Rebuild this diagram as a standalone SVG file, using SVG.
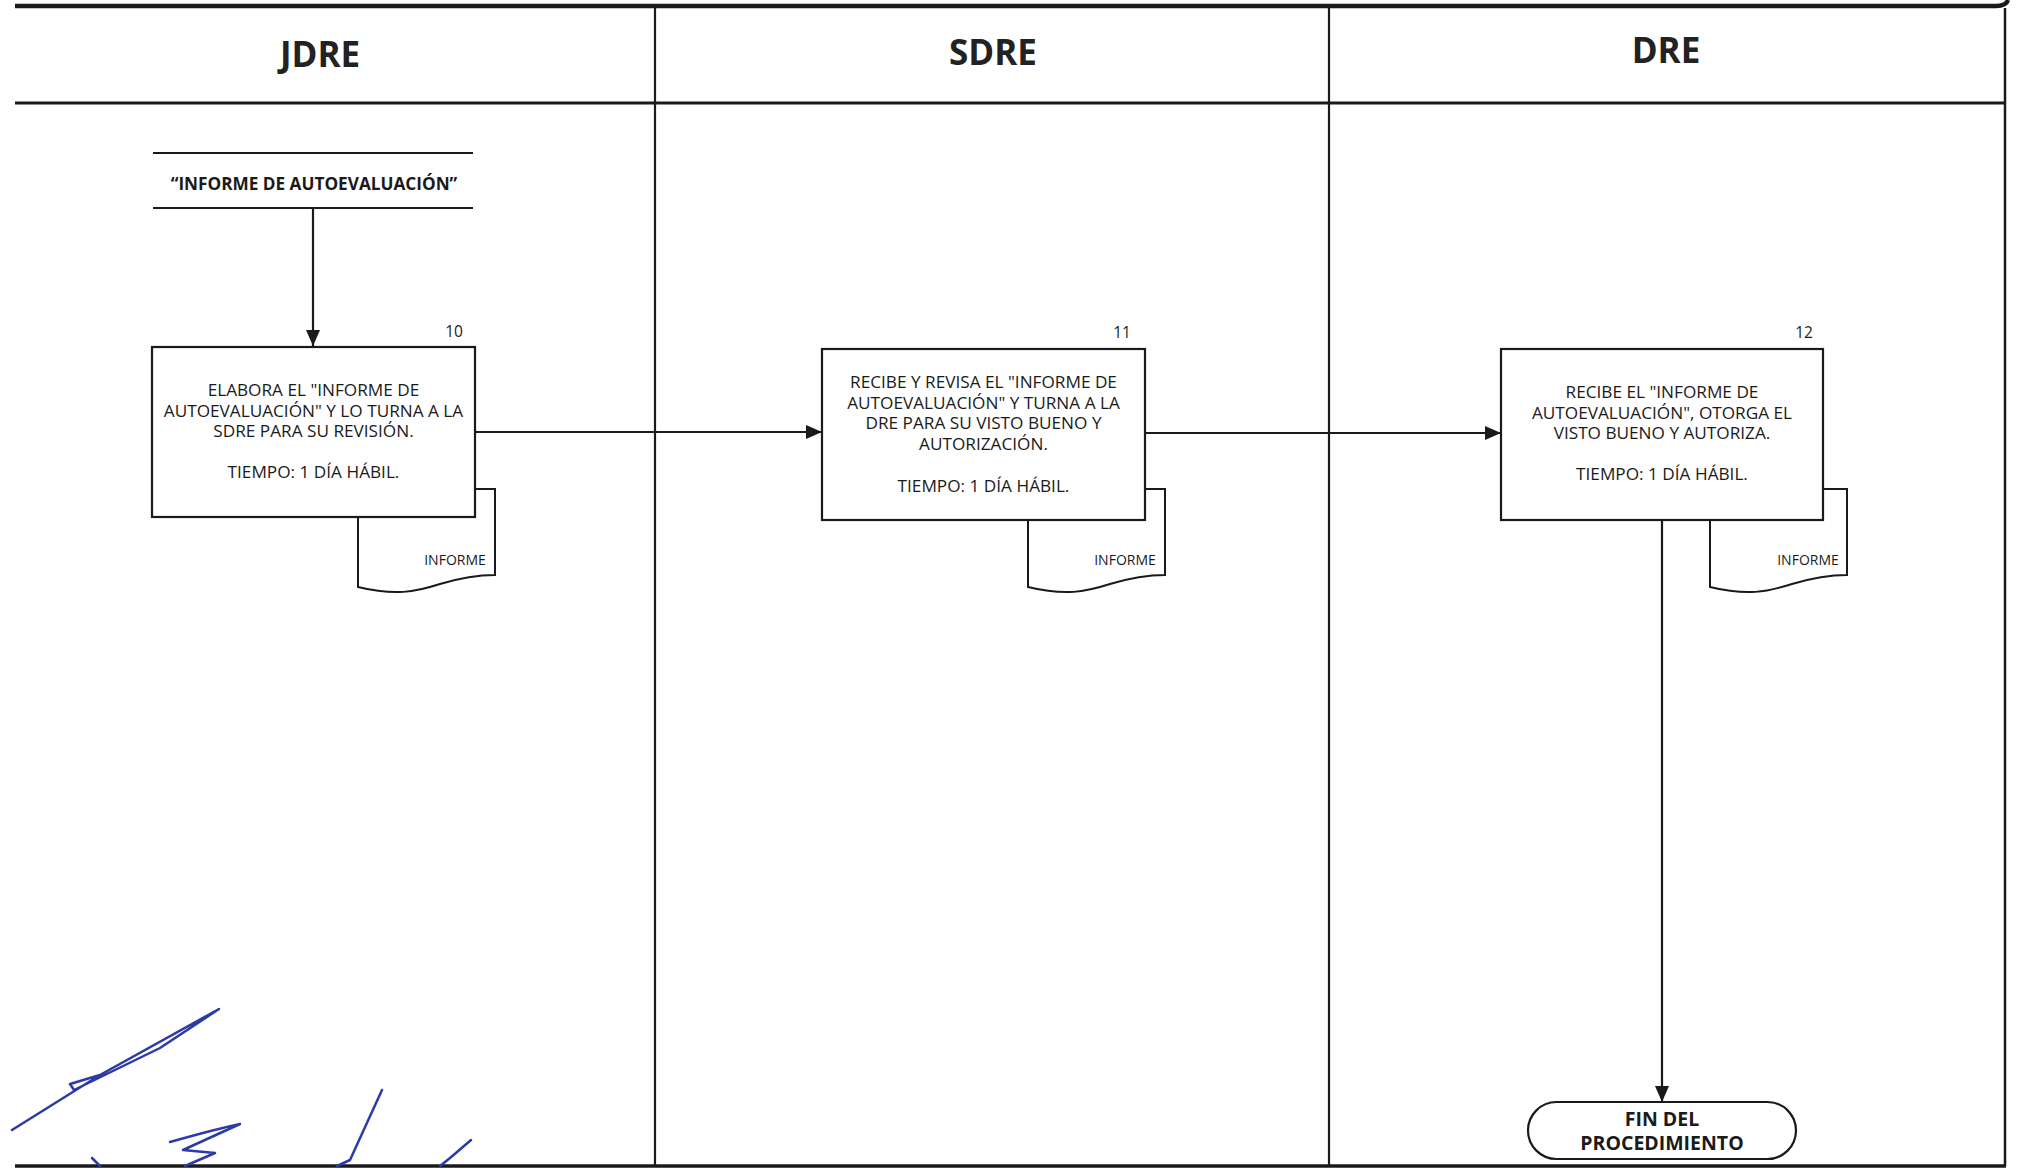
<svg xmlns="http://www.w3.org/2000/svg" width="2017" height="1169" viewBox="0 0 2017 1169">
<style>
.frame{stroke:#1a1a1a;fill:none}
.box{fill:#fff;stroke:#1a1a1a;stroke-width:2.2}
.doc{fill:#fff;stroke:#1a1a1a;stroke-width:2}
.conn{stroke:#1a1a1a;stroke-width:2.2;fill:none}
.t{font-family:"Open Sans","Noto Sans",sans-serif;font-size:17.2px;fill:#1a1a1a;text-anchor:middle}
.n{font-family:"Open Sans","Noto Sans",sans-serif;font-size:15.5px;fill:#1a1a1a;text-anchor:middle}
.s{font-family:"Open Sans","Noto Sans",sans-serif;font-size:14px;fill:#1a1a1a;text-anchor:middle}
.h{font-family:"Open Sans","Noto Sans",sans-serif;font-size:35px;font-weight:bold;fill:#222;text-anchor:middle}
.b{font-family:"Open Sans","Noto Sans",sans-serif;font-size:17.2px;font-weight:bold;fill:#1a1a1a;text-anchor:middle}
.fin{font-family:"Open Sans","Noto Sans",sans-serif;font-size:19.5px;font-weight:bold;fill:#1a1a1a;text-anchor:middle}
.sig{fill:none;stroke:#2b3aa8;stroke-width:2.5;stroke-linecap:round;stroke-linejoin:round}
</style>
<defs>
<marker id="ah" viewBox="0 0 16 14" refX="16" refY="7" markerWidth="16" markerHeight="14" markerUnits="userSpaceOnUse" orient="auto">
<path d="M0,0 L16,7 L0,14 Z" fill="#1a1a1a"/>
</marker>
</defs>
<rect width="2017" height="1169" fill="#fff"/>
<g id="frame">
<path class="frame" stroke-width="4.5" d="M15,6 H1996 Q2006,6 2008,0"/>
<line class="frame" stroke-width="2.5" x1="2005" y1="8" x2="2005" y2="1166"/>
<line class="frame" stroke-width="2.8" x1="15" y1="103" x2="2006" y2="103"/>
<line class="frame" stroke-width="3.5" x1="15" y1="1166" x2="2006" y2="1166"/>
<line class="frame" stroke-width="2.2" x1="655" y1="8" x2="655" y2="1166"/>
<line class="frame" stroke-width="2.2" x1="1329" y1="8" x2="1329" y2="1166"/>
</g>
<g id="headers">
<text class="h" x="320" y="67">JDRE</text>
<text class="h" x="993" y="65">SDRE</text>
<text class="h" x="1666" y="63">DRE</text>
</g>
<g id="connectors">
<line class="conn" x1="313" y1="208" x2="313" y2="346" marker-end="url(#ah)"/>
<line class="conn" x1="475" y1="432" x2="822" y2="432" marker-end="url(#ah)"/>
<line class="conn" x1="1145" y1="433" x2="1501" y2="433" marker-end="url(#ah)"/>
<line class="conn" x1="1662" y1="520" x2="1662" y2="1102" marker-end="url(#ah)"/>
</g>
<g id="start">
<line class="frame" stroke-width="2.2" x1="153" y1="153" x2="473" y2="153"/>
<line class="frame" stroke-width="2.2" x1="153" y1="208" x2="473" y2="208"/>
<text class="b" x="314" y="190">“INFORME DE AUTOEVALUACIÓN”</text>
</g>
<g id="step10">
<path class="doc" d="M358,489 H495 V575 C475,575 460,578 440,584 C415,592 395,596 358,587 Z"/>
<text class="s" x="455" y="565">INFORME</text>
<rect class="box" x="152" y="347" width="323" height="170"/>
<text class="n" x="454" y="337">10</text>
<text class="t" x="313.5" y="396">ELABORA EL "INFORME DE</text>
<text class="t" x="313.5" y="417">AUTOEVALUACIÓN" Y LO TURNA A LA</text>
<text class="t" x="313.5" y="437">SDRE PARA SU REVISIÓN.</text>
<text class="t" x="313.5" y="478">TIEMPO: 1 DÍA HÁBIL.</text>
</g>
<g id="step11">
<path class="doc" d="M1028,489 H1165 V575 C1145,575 1130,578 1110,584 C1085,592 1065,596 1028,587 Z"/>
<text class="s" x="1125" y="565">INFORME</text>
<rect class="box" x="822" y="349" width="323" height="171"/>
<text class="n" x="1122" y="338">11</text>
<text class="t" x="983.5" y="388">RECIBE Y REVISA EL "INFORME DE</text>
<text class="t" x="983.5" y="409">AUTOEVALUACIÓN" Y TURNA A LA</text>
<text class="t" x="983.5" y="429">DRE PARA SU VISTO BUENO Y</text>
<text class="t" x="983.5" y="450">AUTORIZACIÓN.</text>
<text class="t" x="983.5" y="492">TIEMPO: 1 DÍA HÁBIL.</text>
</g>
<g id="step12">
<path class="doc" d="M1710,489 H1847 V575 C1827,575 1812,578 1792,584 C1767,592 1747,596 1710,587 Z"/>
<text class="s" x="1808" y="565">INFORME</text>
<rect class="box" x="1501" y="349" width="322" height="171"/>
<text class="n" x="1804" y="338">12</text>
<text class="t" x="1662" y="398">RECIBE EL "INFORME DE</text>
<text class="t" x="1662" y="419">AUTOEVALUACIÓN", OTORGA EL</text>
<text class="t" x="1662" y="439">VISTO BUENO Y AUTORIZA.</text>
<text class="t" x="1662" y="480">TIEMPO: 1 DÍA HÁBIL.</text>
</g>
<g id="fin">
<rect class="box" x="1528" y="1102" width="268" height="57" rx="28.5" ry="28.5"/>
<text class="fin" x="1662" y="1126">FIN DEL</text>
<text class="fin" x="1662" y="1150">PROCEDIMIENTO</text>
</g>
<g id="signatures">
<path class="sig" d="M12,1130 L100,1075 L219,1009 L160,1048 L74,1090 L70,1084 L100,1075"/>
<path class="sig" stroke-width="4.5" d="M170,1142 C195,1135 220,1128 240,1124 L183,1150 L215,1153 L185,1166"/>
<path class="sig" d="M382,1090 L350,1160 L337,1166"/>
<path class="sig" d="M471,1140 L450,1158 L440,1166"/>
<path class="sig" stroke-width="1.5" d="M92,1158 L100,1166"/>
</g>
</svg>
